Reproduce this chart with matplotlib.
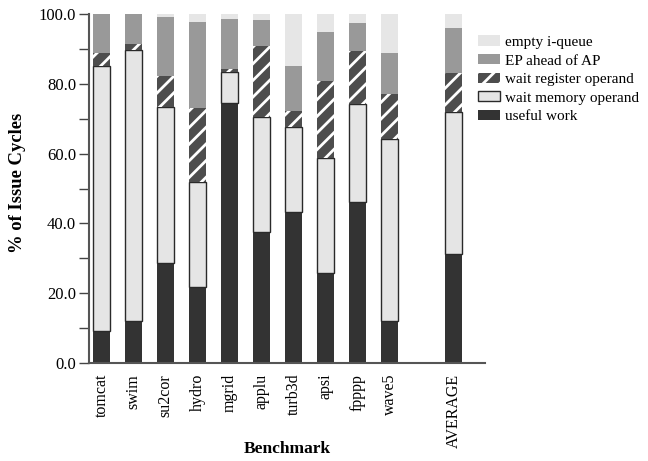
import numpy as np
import matplotlib
matplotlib.use('Agg')
import matplotlib.pyplot as plt

plt.rcParams['font.family'] = ['Liberation Serif', 'DejaVu Serif']
plt.rcParams['hatch.linewidth'] = 2.0

# issue cycle breakdown per benchmark (percent)
benchmarks = ['tomcat', 'swim', 'su2cor', 'hydro', 'mgrid', 'applu',
              'turb3d', 'apsi', 'fpppp', 'wave5', 'AVERAGE']
useful_work = [9.2, 11.9, 28.6, 21.8, 74.5, 37.5, 43.4, 25.8, 46.0, 12.1, 31.1]
wait_memory = [76.1, 77.9, 44.7, 30.1, 8.9, 33.0, 24.2, 33.0, 28.2, 52.2, 40.8]
wait_register = [3.5, 1.8, 8.9, 21.1, 0.9, 20.4, 4.6, 22.1, 15.4, 12.8, 11.3]
ep_ahead = [11.2, 8.4, 17.1, 24.9, 14.4, 7.6, 13.0, 14.1, 8.0, 11.9, 13.0]
empty_iqueue = [0.0, 0.0, 0.7, 2.1, 1.3, 1.5, 14.8, 5.0, 2.4, 11.0, 3.8]

# leave an empty slot before the average bar
x = np.array(list(range(10)) + [11])
w = 0.52

fig = plt.figure(figsize=(6.48, 4.61), dpi=100)
ax = fig.add_axes([0.1366, 0.2132, 0.612, 0.7557])

b = np.zeros(len(x))
h1 = ax.bar(x, useful_work, w, bottom=b, color='#333333', linewidth=0, label='useful work')
b += useful_work
h2 = ax.bar(x, wait_memory, w, bottom=b, facecolor='#e5e5e5', edgecolor='#2a2a2a',
            linewidth=1.0, label='wait memory operand')
b += wait_memory
h3 = ax.bar(x, wait_register, w, bottom=b, facecolor='#4d4d4d', edgecolor='white',
            hatch='//', linewidth=0, label='wait register operand')
b += wait_register
h4 = ax.bar(x, ep_ahead, w, bottom=b, color='#999999', linewidth=0, label='EP ahead of AP')
b += ep_ahead
h5 = ax.bar(x, empty_iqueue, w, bottom=b, color='#e6e6e6', linewidth=0, label='empty i-queue')

ax.set_xlim(-0.41, 11.98)
ax.set_ylim(0, 100)
ax.set_yticks(np.arange(0, 101, 20))
ax.set_yticklabels(['%.1f' % v for v in np.arange(0, 101, 20)], fontsize=12)
ax.set_yticks(np.arange(10, 100, 20), minor=True)
ax.tick_params(axis='y', which='major', length=7, width=1, color='#444444', pad=2)
ax.tick_params(axis='y', which='minor', length=7, width=1, color='#444444')
ax.set_xticks(x)
ax.set_xticklabels(benchmarks, rotation=90, fontsize=11.5)
ax.tick_params(axis='x', length=0, pad=8)

for s in ['top', 'right']:
    ax.spines[s].set_visible(False)
for s in ['left', 'bottom']:
    ax.spines[s].set_color('#555555')
    ax.spines[s].set_linewidth(1.5)

ax.set_ylabel('% of Issue Cycles', fontsize=13.4, fontweight='bold')
ax.set_xlabel('Benchmark', fontsize=12.5, fontweight='bold')
ax.yaxis.set_label_coords(-0.179, 0.517)
ax.xaxis.set_label_coords(0.502, -0.248)
ax.xaxis.label.set_va('center')
ax.yaxis.label.set_va('center')

ax.legend([h5, h4, h3, h2, h1],
          ['empty i-queue', 'EP ahead of AP', 'wait register operand',
           'wait memory operand', 'useful work'],
          loc='upper left', bbox_to_anchor=(478 / 648, 1 - 35.5 / 461),
          bbox_transform=fig.transFigure, frameon=False,
          fontsize=11, handlelength=1.43, handleheight=0.66,
          labelspacing=0.33, handletextpad=0.33, borderaxespad=0, borderpad=0)

fig.savefig('out.png', dpi=100)
